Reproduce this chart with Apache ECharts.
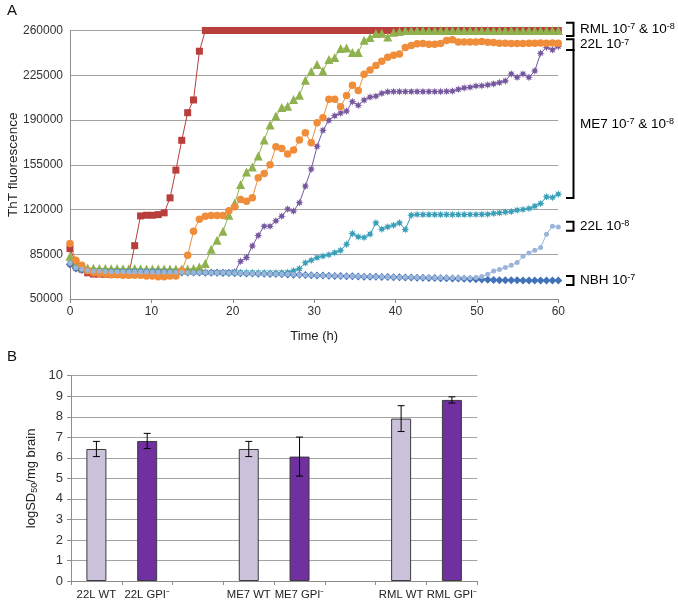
<!DOCTYPE html>
<html><head><meta charset="utf-8">
<script src="https://cdn.jsdelivr.net/npm/echarts/dist/echarts.min.js"></script>
<style>html,body{margin:0;padding:0;background:#fff}#c{width:678px;height:603px}</style>
</head><body><div id="c"></div>
<script>
// ---------- Panel A data (ThT fluorescence vs time) ----------
const hours = [0, 0.72, 1.45, 2.17, 2.89, 3.61, 4.34, 5.06, 5.78, 6.51,
 7.23, 7.95, 8.67, 9.40, 10.12, 10.84, 11.57, 12.29, 13.01, 13.73,
 14.46, 15.18, 15.90, 16.63, 17.35, 18.07, 18.80, 19.52, 20.24, 20.96,
 21.69, 22.41, 23.13, 23.86, 24.58, 25.30, 26.02, 26.75, 27.47, 28.19,
 28.92, 29.64, 30.36, 31.08, 31.81, 32.53, 33.25, 33.98, 34.70, 35.42,
 36.14, 36.87, 37.59, 38.31, 39.04, 39.76, 40.48, 41.20, 41.93, 42.65,
 43.37, 44.10, 44.82, 45.54, 46.27, 46.99, 47.71, 48.43, 49.16, 49.88,
 50.60, 51.33, 52.05, 52.77, 53.49, 54.22, 54.94, 55.66, 56.39, 57.11,
 57.83, 58.55, 59.28, 60.00];

const nbh7 = [77000, 73800, 72800, 72000, 71700, 71500, 71400, 71300, 71200, 71200,
 71100, 71100, 71000, 71000, 71000, 70900, 70900, 70900, 70800, 70800,
 70800, 70700, 70700, 70600, 70600, 70500, 70400, 70300, 70200, 70100,
 70000, 69900, 69800, 69700, 69600, 69500, 69300, 69200, 69000, 68900,
 68700, 68600, 68400, 68300, 68100, 68000, 67900, 67800, 67700, 67600,
 67500, 67500, 67400, 67300, 67200, 67100, 67000, 66900, 66800, 66700,
 66600, 66500, 66400, 66300, 66200, 66100, 66000, 65800, 65600, 65400,
 65200, 65000, 64800, 64700, 64600, 64600, 64600, 64500, 64500, 64500,
 64500, 64500, 64500, 64500];

const rml7 = [89400, 78000, 73500, 70500, 69500, 69500, 69300, 69200, 69200, 69300,
 69500, 91700, 115000, 115500, 115500, 116000, 117400, 129100, 150800, 174100,
 195700, 205700, 243800, 260000, 260000, 260000, 260000, 260000, 260000, 260000,
 260000, 260000, 260000, 260000, 260000, 260000, 260000, 260000, 260000, 260000,
 260000, 260000, 260000, 260000, 260000, 260000, 260000, 260000, 260000, 260000,
 260000, 260000, 260000, 260000, 260000, 260000, 260000, 260000, 260000, 260000,
 260000, 260000, 260000, 260000, 260000, 260000, 260000, 260000, 260000, 260000,
 260000, 260000, 260000, 260000, 260000, 260000, 260000, 260000, 260000, 260000,
 260000, 260000, 260000, 260000];

const rml8 = [83400, 77700, 75000, 74200, 74000, 73800, 73800, 73600, 73800, 73600,
 73600, 73800, 73600, 73500, 73500, 73600, 73500, 73400, 73500, 73400,
 73500, 73800, 75100, 77700, 89000, 96000, 103000, 115500, 125000, 139500,
 149400, 153300, 161900, 174300, 186000, 193200, 199700, 200800, 206000, 209400,
 221100, 228000, 233400, 228400, 237300, 238900, 245900, 246400, 242800, 242800,
 252400, 254500, 257700, 257900, 255000, 258700, 259300, 260000, 260000, 260000,
 260000, 260000, 260000, 260000, 260000, 260000, 260000, 260000, 260000, 260000,
 260000, 260000, 260000, 260000, 260000, 260000, 260000, 260000, 260000, 260000,
 260000, 260000, 260000, 260000];

const me7_7 = [77000, 74000, 72500, 72000, 71800, 71700, 71600, 71500, 71500, 71400,
 71400, 71300, 71300, 71200, 71200, 71200, 71100, 71100, 71000, 71000,
 71000, 70900, 70900, 70900, 70800, 70800, 70800, 70800, 71200, 79500,
 82400, 91500, 99700, 106900, 106900, 111100, 114800, 120300, 118800, 125300,
 138300, 151600, 169400, 181900, 189700, 193300, 195400, 197000, 204300, 201500,
 205600, 207900, 208600, 210900, 212000, 212200, 212200, 212200, 212200, 212200,
 212200, 212200, 212200, 212200, 212400, 212600, 214000, 215100, 215600, 216600,
 216800, 217400, 218200, 219300, 220600, 226000, 223400, 226000, 223400, 228400,
 242200, 246900, 244900, 247500];

const me7_8 = [78000, 74500, 73000, 72300, 71800, 71700, 71600, 71500, 71500, 71400,
 71300, 71300, 71200, 71200, 71100, 71100, 71000, 71000, 71000, 70900,
 70900, 70800, 70800, 70800, 70700, 70700, 70700, 70600, 70600, 70600,
 70500, 70500, 70500, 70500, 70400, 70400, 70600, 70900, 72000, 73800,
 78300, 80300, 82400, 83600, 84600, 86200, 88100, 92800, 101200, 98600,
 98100, 100700, 109600, 104600, 106400, 107700, 109600, 104300, 115600, 116100,
 116000, 116000, 116000, 116000, 116000, 116000, 116000, 116000, 116100, 116100,
 116200, 116300, 116900, 117400, 117900, 118400, 119500, 120000, 120800, 122600,
 124700, 129900, 129400, 132000];

const l22_7 = [93400, 80300, 76400, 72000, 70500, 70000, 69500, 69000, 69000, 68500,
 68500, 68500, 68500, 68000, 68000, 67500, 67500, 68000, 68000, 72000,
 84200, 103000, 112400, 114800, 115300, 115300, 115300, 119000, 122100, 127900,
 126500, 129100, 144800, 148200, 155000, 169100, 167800, 163400, 166500, 174300,
 180100, 172200, 187900, 191800, 206200, 206200, 200400, 209100, 217200, 213000,
 225800, 229200, 232600, 236000, 239100, 240700, 241700, 246700, 248200, 249600,
 249800, 249300, 249300, 249800, 252200, 252700, 251100, 251100, 251100, 251100,
 251400, 250800, 250600, 250100, 250100, 249800, 249800, 249800, 250100, 250100,
 250300, 250100, 250300, 250100];

const l22_8 = [78000, 74500, 73200, 72300, 71900, 71700, 71500, 71400, 71300, 71300,
 71200, 71200, 71100, 71100, 71000, 71000, 71000, 70900, 70900, 70900,
 70800, 70800, 70700, 70700, 70600, 70600, 70500, 70400, 70300, 70200,
 70100, 70000, 69900, 69800, 69700, 69600, 69400, 69300, 69100, 69000,
 68800, 68700, 68500, 68400, 68200, 68100, 68000, 67900, 67800, 67700,
 67600, 67600, 67500, 67400, 67300, 67200, 67100, 67000, 67000, 66900,
 66800, 66800, 66700, 66700, 66600, 66600, 66500, 66500, 66600, 66900,
 67600, 69300, 71900, 73000, 74600, 76400, 78500, 83400, 86000, 88100,
 90200, 100700, 106900, 106400];

// ---------- Panel B data (logSD50/mg brain) ----------
const categories = ['22L WT', '22L GPI\u207B', '', 'ME7 WT', 'ME7 GPI\u207B', '', 'RML WT', 'RML GPI\u207B'];
const wtValues  = [6.43, null, null, 6.43, null, null, 7.91, null];
const wtErrors  = [0.37, null, null, 0.37, null, null, 0.63, null];
const gpiValues = [null, 6.82, null, null, 6.06, null, null, 8.82];
const gpiErrors = [null, 0.37, null, null, 0.95, null, null, 0.15];

const FONT = '"Liberation Sans", Arial, Helvetica, sans-serif';
const TXT = '#333333';
const GRIDC = '#a3a3a3';
const AXC = '#8c8c8c';
const star = 'path://M20 10 L14.62 11.91 L17.07 17.07 L11.91 14.62 L10 20 L8.09 14.62 L2.93 17.07 L5.38 11.91 L0 10 L5.38 8.09 L2.93 2.93 L8.09 5.38 L10 0 L11.91 5.38 L17.07 2.93 L14.62 8.09 Z';

const lineDefs = [
  {name: 'NBH 10-7', data: nbh7, color: '#4272B8', symbol: 'diamond', size: 8},
  {name: 'RML 10-7', data: rml7, color: '#B83F3C', symbol: 'rect', size: 7},
  {name: 'RML 10-8', data: rml8, color: '#8FB24E', symbol: 'triangle', size: 9},
  {name: 'ME7 10-7', data: me7_7, color: '#76589F', symbol: star, size: 8},
  {name: 'ME7 10-8', data: me7_8, color: '#3A9FB8', symbol: star, size: 8},
  {name: '22L 10-7', data: l22_7, color: '#EF8D3A', symbol: 'circle', size: 7.5},
  {name: '22L 10-8', data: l22_8, color: '#9AB4DA', symbol: 'circle', size: 5}
];

function errData(vals, errs) {
  const out = [];
  vals.forEach((v, i) => { if (v != null) out.push([i, v - errs[i], v + errs[i]]); });
  return out;
}

const chart = echarts.init(document.getElementById('c'), null, {renderer: 'canvas'});

const series = lineDefs.map(d => ({
  type: 'line', name: d.name, xAxisIndex: 0, yAxisIndex: 0,
  data: hours.map((h, i) => [h, d.data[i]]),
  symbol: d.symbol, symbolSize: d.size, showSymbol: true, clip: false,
  itemStyle: {color: d.color, borderWidth: 0},
  lineStyle: {color: d.color, width: 1},
  emphasis: {disabled: true}, animation: false
}));

series.push({
  type: 'bar', xAxisIndex: 1, yAxisIndex: 1, data: wtValues, barWidth: 20, barGap: '-100%',
  itemStyle: {color: '#CCC1DA', borderColor: '#3c3c3c', borderWidth: 1}, animation: false
});
series.push({
  type: 'bar', xAxisIndex: 1, yAxisIndex: 1, data: gpiValues, barWidth: 20, barGap: '-100%',
  itemStyle: {color: '#7030A0', borderColor: '#3c3c3c', borderWidth: 1}, animation: false
});
const errRender = function (params, api) {
  const x = api.value(0);
  const top = api.coord([x, api.value(2)]);
  const bot = api.coord([x, api.value(1)]);
  const w = 3.5;
  const st = {stroke: '#000', lineWidth: 1};
  return {type: 'group', children: [
    {type: 'line', shape: {x1: top[0], y1: top[1], x2: bot[0], y2: bot[1]}, style: st},
    {type: 'line', shape: {x1: top[0] - w, y1: top[1], x2: top[0] + w, y2: top[1]}, style: st},
    {type: 'line', shape: {x1: bot[0] - w, y1: bot[1], x2: bot[0] + w, y2: bot[1]}, style: st}
  ]};
};
series.push({type: 'custom', xAxisIndex: 1, yAxisIndex: 1, data: errData(wtValues, wtErrors), renderItem: errRender, z: 10, animation: false});
series.push({type: 'custom', xAxisIndex: 1, yAxisIndex: 1, data: errData(gpiValues, gpiErrors), renderItem: errRender, z: 10, animation: false});

chart.setOption({
  backgroundColor: '#ffffff',
  animation: false,
  textStyle: {fontFamily: FONT},
  grid: [
    {left: 70, top: 30.5, width: 488.3, height: 268.5, containLabel: false, outerBoundsMode: 'none'},
    {left: 71, top: 375.7, width: 406.3, height: 205.3, containLabel: false, outerBoundsMode: 'none'}
  ],
  xAxis: [
    {type: 'value', gridIndex: 0, min: 0, max: 60, interval: 10,
     name: 'Time (h)', nameLocation: 'middle', nameGap: 31, nameMoveOverlap: false,
     nameTextStyle: {fontSize: 13, color: '#222', fontFamily: FONT},
     axisLine: {show: true, lineStyle: {color: AXC, width: 1}},
     axisTick: {show: true, length: 4, inside: false, lineStyle: {color: AXC}},
     axisLabel: {fontSize: 12, color: TXT, margin: 7, fontFamily: FONT},
     splitLine: {show: false}},
    {type: 'category', gridIndex: 1, data: categories,
     axisLine: {show: true, lineStyle: {color: AXC, width: 1}},
     axisTick: {show: true, length: 4, alignWithLabel: false, interval: 0, lineStyle: {color: AXC}},
     axisLabel: {fontSize: 11.3, color: '#222', margin: 8, interval: 0, hideOverlap: false, fontFamily: FONT},
     splitLine: {show: false}}
  ],
  yAxis: [
    {type: 'value', gridIndex: 0, min: 50000, max: 260000, interval: 35000,
     name: 'ThT fluorescence', nameLocation: 'middle', nameGap: 50, nameRotate: 90, nameMoveOverlap: false,
     nameTextStyle: {fontSize: 13.5, color: '#222', fontFamily: FONT},
     axisLine: {show: true, lineStyle: {color: AXC, width: 1}},
     axisTick: {show: false},
     axisLabel: {fontSize: 12, color: TXT, margin: 7, fontFamily: FONT, formatter: v => String(v)},
     splitLine: {show: true, lineStyle: {color: GRIDC, width: 1}}},
    {type: 'value', gridIndex: 1, min: 0, max: 10, interval: 1,
     name: '{a|logSD}{s|50}{a|/mg brain}', nameLocation: 'middle', nameGap: 32, nameRotate: 90, nameMoveOverlap: false,
     nameTextStyle: {fontSize: 13, color: '#222', fontFamily: FONT,
       rich: {a: {fontSize: 13, color: '#222', lineHeight: 14, padding: [0, 0, 3, 0], verticalAlign: 'top', fontFamily: FONT},
              s: {fontSize: 9, color: '#222', lineHeight: 9, verticalAlign: 'bottom', fontFamily: FONT}}},
     axisLine: {show: true, lineStyle: {color: AXC, width: 1}},
     axisTick: {show: true, length: 4, lineStyle: {color: AXC}},
     axisLabel: {fontSize: 13, color: TXT, margin: 8, fontFamily: FONT},
     splitLine: {show: true, lineStyle: {color: GRIDC, width: 1}}}
  ],
  series: series
});

// ---------- Annotations (brackets + coloured labels), placed through the y scale ----------
const annotations = [
  {hi: 266000, lo: 255700, text: '{k|RML }{c1|10}{s1|-7}{k| & }{c2|10}{s2|-8}', colors: ['#C0504D', '#9BBB59']},
  {hi: 253100, lo: 244700, text: '{k|22L }{c1|10}{s1|-7}', colors: ['#F79646']},
  {hi: 244700, lo: 129000, text: '{k|ME7 }{c1|10}{s1|-7}{k| & }{c2|10}{s2|-8}', colors: ['#8064A2', '#4BACC6']},
  {hi: 110500, lo: 103400, text: '{k|22L }{c1|10}{s1|-8}', colors: ['#95B3D7']},
  {hi: 68000,  lo: 61000,  text: '{k|NBH }{c1|10}{s1|-7}', colors: ['#4F81BD']}
];
function richFor(colors) {
  const r = {k: {fontSize: 13.5, color: '#111', lineHeight: 14, padding: [3, 0, 0, 0], verticalAlign: 'bottom', fontFamily: FONT}};
  colors.forEach((c, j) => {
    r['c' + (j + 1)] = {fontSize: 13.5, color: c, lineHeight: 14, padding: [3, 0, 0, 0], verticalAlign: 'bottom', fontFamily: FONT};
    r['s' + (j + 1)] = {fontSize: 9, color: c, lineHeight: 9, verticalAlign: 'top', fontFamily: FONT};
  });
  return r;
}
const gfx = [
  {type: 'text', left: 7, top: 3, style: {text: 'A', fontSize: 15, fill: '#111', fontFamily: FONT}},
  {type: 'text', left: 7, top: 349, style: {text: 'B', fontSize: 15, fill: '#111', fontFamily: FONT}}
];
annotations.forEach(a => {
  const y1 = chart.convertToPixel({xAxisIndex: 0, yAxisIndex: 0}, [60, a.hi])[1];
  const y2 = chart.convertToPixel({xAxisIndex: 0, yAxisIndex: 0}, [60, a.lo])[1];
  gfx.push({type: 'polyline', shape: {points: [[566, y1], [573.5, y1], [573.5, y2], [566, y2]]},
            style: {stroke: '#000', lineWidth: 2, fill: null}});
  gfx.push({type: 'text', x: 580, y: (y1 + y2) / 2,
            style: {text: a.text, rich: richFor(a.colors), align: 'left', verticalAlign: 'middle', fontFamily: FONT}});
});
chart.setOption({graphic: gfx});
</script>
</body></html>
